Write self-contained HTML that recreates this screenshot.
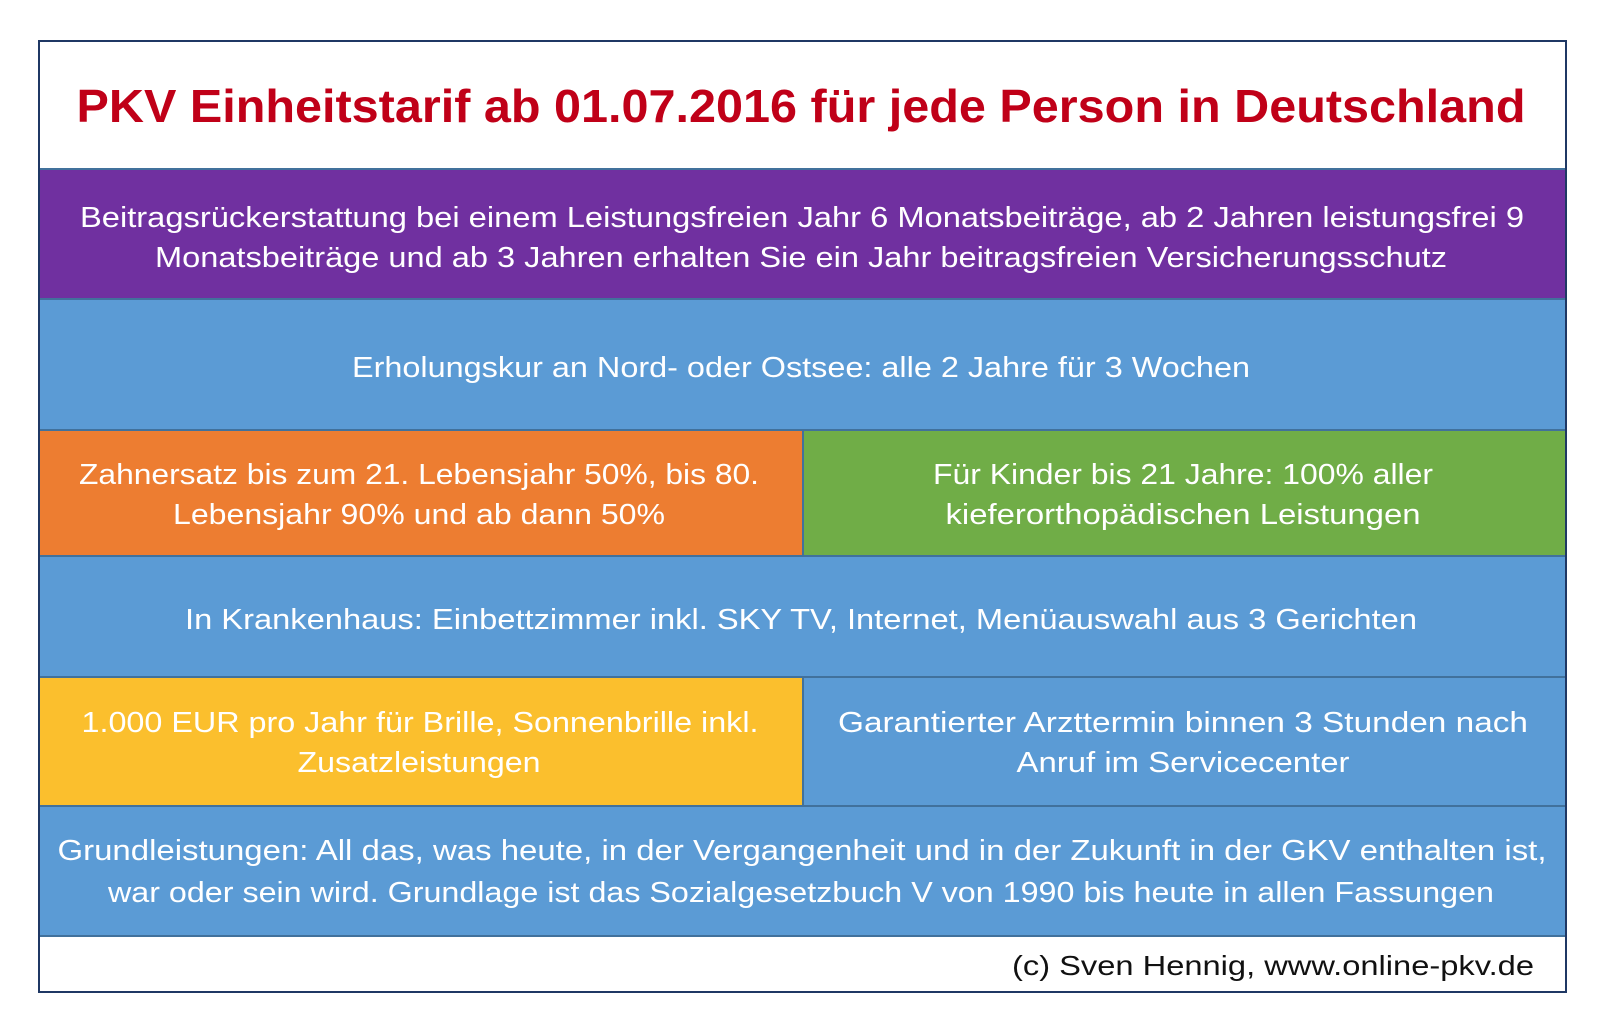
<!DOCTYPE html>
<html><head><meta charset="utf-8"><style>
html,body{margin:0;padding:0;background:#fff;}
svg{display:block;font-family:"Liberation Sans",sans-serif;}
</style></head><body>
<svg width="1600" height="1027" viewBox="0 0 1600 1027">
<rect x="0" y="0" width="1600" height="1027" fill="#fff"/>
<g>
<text x="801" y="122" text-anchor="middle" font-size="46" font-weight="bold" fill="#c00018" textLength="1449" lengthAdjust="spacingAndGlyphs">PKV Einheitstarif ab 01.07.2016 für jede Person in Deutschland</text>
</g>
<g stroke="#41719c" stroke-width="2">
<rect x="39" y="169" width="1527" height="130" fill="#7030a0"/>
<rect x="39" y="299" width="1527" height="131" fill="#5b9bd5"/>
<rect x="39" y="430" width="764" height="126" fill="#ed7d31"/>
<rect x="803" y="430" width="763" height="126" fill="#70ad47"/>
<rect x="39" y="556" width="1527" height="121" fill="#5b9bd5"/>
<rect x="39" y="677" width="764" height="129" fill="#fbbf2d"/>
<rect x="803" y="677" width="763" height="129" fill="#5b9bd5"/>
<rect x="39" y="806" width="1527" height="130" fill="#5b9bd5"/>
</g>
<g font-size="29" fill="#fff" text-anchor="middle">
<text x="802" y="227" textLength="1444" lengthAdjust="spacingAndGlyphs">Beitragsrückerstattung bei einem Leistungsfreien Jahr 6 Monatsbeiträge, ab 2 Jahren leistungsfrei 9</text>
<text x="801" y="267" textLength="1292" lengthAdjust="spacingAndGlyphs">Monatsbeiträge und ab 3 Jahren erhalten Sie ein Jahr beitragsfreien Versicherungsschutz</text>
<text x="801" y="377" textLength="898" lengthAdjust="spacingAndGlyphs">Erholungskur an Nord- oder Ostsee: alle 2 Jahre für 3 Wochen</text>
<text x="419" y="484" textLength="680" lengthAdjust="spacingAndGlyphs">Zahnersatz bis zum 21. Lebensjahr 50%, bis 80.</text>
<text x="419" y="524" textLength="492" lengthAdjust="spacingAndGlyphs">Lebensjahr 90% und ab dann 50%</text>
<text x="1183" y="484" textLength="500" lengthAdjust="spacingAndGlyphs">Für Kinder bis 21 Jahre: 100% aller</text>
<text x="1183" y="524" textLength="475" lengthAdjust="spacingAndGlyphs">kieferorthopädischen Leistungen</text>
<text x="801" y="629" textLength="1232" lengthAdjust="spacingAndGlyphs">In Krankenhaus:  Einbettzimmer inkl. SKY TV, Internet, Menüauswahl aus 3 Gerichten</text>
<text x="420" y="732" textLength="677" lengthAdjust="spacingAndGlyphs">1.000 EUR pro Jahr für Brille, Sonnenbrille inkl.</text>
<text x="419" y="772" textLength="243" lengthAdjust="spacingAndGlyphs">Zusatzleistungen</text>
<text x="1183" y="732" textLength="690" lengthAdjust="spacingAndGlyphs">Garantierter Arzttermin binnen 3 Stunden nach</text>
<text x="1183" y="772" textLength="333" lengthAdjust="spacingAndGlyphs">Anruf im Servicecenter</text>
<text x="802" y="860" textLength="1489" lengthAdjust="spacingAndGlyphs">Grundleistungen: All das, was heute, in der Vergangenheit und in der Zukunft in der GKV enthalten ist,</text>
<text x="801" y="902" textLength="1386" lengthAdjust="spacingAndGlyphs">war oder sein wird. Grundlage ist das Sozialgesetzbuch V von 1990 bis heute in allen Fassungen</text>
</g>
<text x="1534" y="975" text-anchor="end" font-size="28" fill="#111" textLength="522" lengthAdjust="spacingAndGlyphs">(c) Sven Hennig, www.online-pkv.de</text>
<rect x="39" y="41" width="1527" height="951" fill="none" stroke="#1f3864" stroke-width="2"/>
</svg>
</body></html>
